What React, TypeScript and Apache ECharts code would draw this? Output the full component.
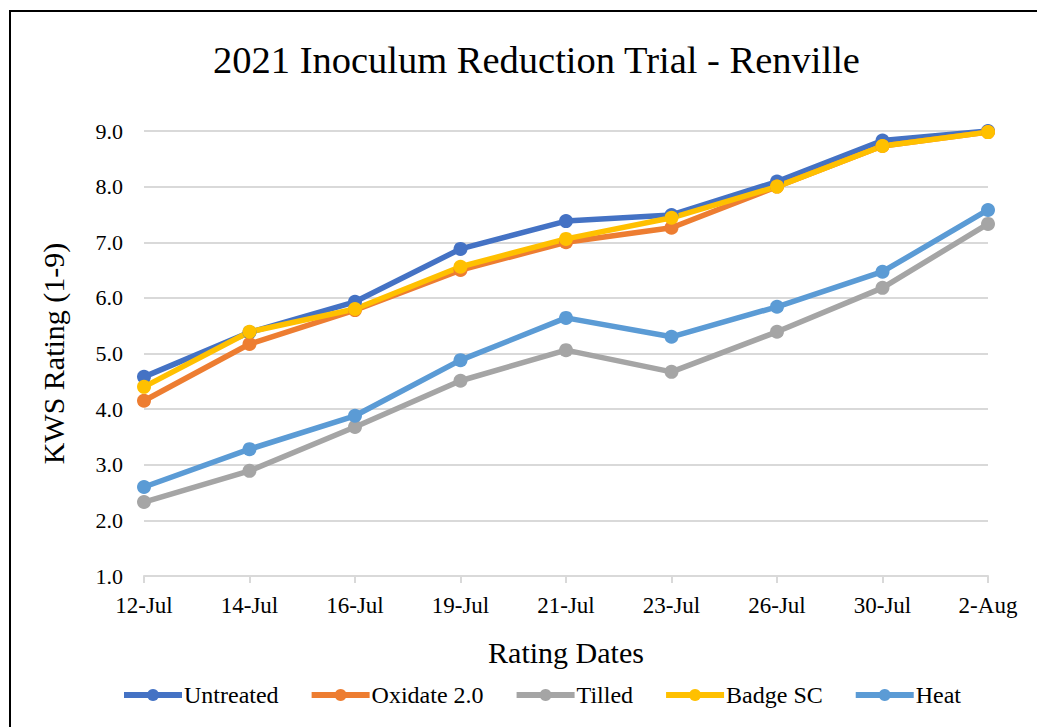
import React, { useEffect, useRef } from "react";
import * as echarts from "echarts";

const categories = ["12-Jul", "14-Jul", "16-Jul", "19-Jul", "21-Jul", "23-Jul", "26-Jul", "30-Jul", "2-Aug"];
const untreated = [4.58, 5.38, 5.93, 6.88, 7.38, 7.49, 8.09, 8.83, 9.0];
const oxidate = [4.15, 5.17, 5.78, 6.5, 7.0, 7.26, 8.0, 8.73, 8.98];
const tilled = [2.33, 2.89, 3.68, 4.51, 5.06, 4.67, 5.39, 6.18, 7.33];
const badge = [4.4, 5.39, 5.8, 6.56, 7.06, 7.44, 8.0, 8.73, 8.98];
const heat = [2.6, 3.28, 3.88, 4.88, 5.64, 5.3, 5.84, 6.47, 7.58];
const seriesNames = ["Untreated", "Oxidate 2.0", "Tilled", "Badge SC", "Heat"];
const seriesColors = ["#4472C4", "#ED7D31", "#A5A5A5", "#FFC000", "#5B9BD5"];
const yTicks = { min: 1, max: 9, interval: 1 };

const FONT = "'Liberation Serif', 'Times New Roman', serif";

export default function App() {
  const ref = useRef<HTMLDivElement>(null);
  useEffect(() => {
    if (!ref.current) return;
    const chart = echarts.init(ref.current, undefined, { renderer: "svg" });
    const data = [untreated, oxidate, tilled, badge, heat];
    chart.setOption({
      animation: false,
      backgroundColor: "#ffffff",
      title: {
        text: "2021 Inoculum Reduction Trial - Renville",
        left: 208,
        top: 35,
        textStyle: { fontFamily: FONT, fontSize: 38.5, fontWeight: "normal", color: "#000" },
      },
      grid: { left: 144, right: 49, top: 131, bottom: 151, containLabel: false },
      legend: {
        bottom: 15,
        left: 116,
        itemWidth: 58,
        itemHeight: 15,
        itemGap: 30,
        lineStyle: { width: 6 },
        textStyle: { fontFamily: FONT, fontSize: 24, color: "#000", padding: [0, 0, 0, -3] },
        data: seriesNames,
      },
      xAxis: {
        type: "category",
        data: categories,
        boundaryGap: false,
        name: "Rating Dates",
        nameLocation: "middle",
        nameGap: 61,
        nameTextStyle: { fontFamily: FONT, fontSize: 30, color: "#000" },
        axisLine: { lineStyle: { color: "#D9D9D9", width: 2 } },
        axisTick: { show: true, length: 7, lineStyle: { color: "#D9D9D9", width: 2 } },
        axisLabel: { fontFamily: FONT, fontSize: 23, color: "#000", margin: 18 },
      },
      yAxis: {
        type: "value",
        min: yTicks.min,
        max: yTicks.max,
        interval: yTicks.interval,
        name: "KWS Rating (1-9)",
        nameLocation: "middle",
        nameGap: 76,
        nameTextStyle: { fontFamily: FONT, fontSize: 30, color: "#000" },
        axisLine: { show: false },
        axisTick: { show: false },
        splitLine: { lineStyle: { color: "#D9D9D9", width: 2 } },
        axisLabel: {
          fontFamily: FONT,
          fontSize: 22,
          color: "#000",
          margin: 21,
          formatter: (v: number) => v.toFixed(1),
        },
      },
      series: seriesNames.map((name, i) => ({
        name,
        type: "line",
        data: data[i],
        symbol: "circle",
        symbolSize: 14,
        itemStyle: { color: seriesColors[i] },
        lineStyle: { color: seriesColors[i], width: 5.5 },
      })),
    });
    return () => chart.dispose();
  }, []);
  return (
    <div style={{ position: "fixed", left: 0, top: 0, width: 1037, height: 727, background: "#fff" }}>
      <div ref={ref} style={{ position: "absolute", left: 0, top: 0, width: 1037, height: 727 }} />
      <div
        style={{
          position: "absolute",
          left: 9,
          top: 10,
          width: 1100,
          height: 800,
          borderLeft: "2px solid #000",
          borderTop: "2px solid #000",
          pointerEvents: "none",
        }}
      />
    </div>
  );
}
